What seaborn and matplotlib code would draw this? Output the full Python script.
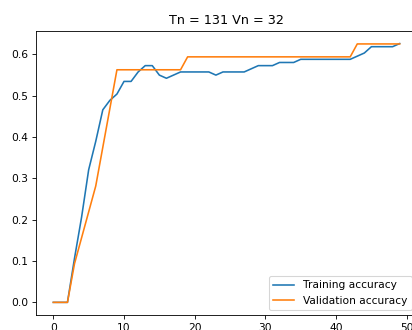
import matplotlib
matplotlib.use('Agg')
import matplotlib.pyplot as plt
import seaborn as sns
import numpy as np
import pandas as pd

# Counts of correct samples per epoch (Tn = 131 training, Vn = 32 validation)
n_train = 131
n_val = 32
epochs = list(range(50))
train_correct = [0, 0, 0, 14, 27, 42, 51, 61, 64, 66,
                 70, 70, 73, 75, 75, 72, 71, 72, 73, 73,
                 73, 73, 73, 72, 73, 73, 73, 73, 74, 75,
                 75, 75, 76, 76, 76, 77, 77, 77, 77, 77,
                 77, 77, 77, 78, 79, 81, 81, 81, 81, 82]
val_correct = [0, 0, 0, 3, 5, 7, 9, 12, 15, 18,
               18, 18, 18, 18, 18, 18, 18, 18, 18, 19,
               19, 19, 19, 19, 19, 19, 19, 19, 19, 19,
               19, 19, 19, 19, 19, 19, 19, 19, 19, 19,
               19, 19, 19, 20, 20, 20, 20, 20, 20, 20]

train_acc = np.array(train_correct) / n_train
val_acc = np.array(val_correct) / n_val

df = pd.DataFrame({
    'epoch': epochs * 2,
    'accuracy': np.concatenate([train_acc, val_acc]),
    'series': ['Training accuracy'] * 50 + ['Validation accuracy'] * 50,
})

dpi = 76.8
fig = plt.figure(figsize=(412 / dpi, 330 / dpi), dpi=dpi)
ax = fig.add_axes([36 / 412, 14.7 / 330, 381 / 412, 284.7 / 330])

sns.lineplot(data=df, x='epoch', y='accuracy', hue='series',
             palette=['#1f77b4', '#ff7f0e'], ax=ax)

ax.set_title(f'Tn = {n_train} Vn = {n_val}')
ax.set_xlabel('')
ax.set_ylabel('')
ax.set_xticks([0, 10, 20, 30, 40, 50])
ax.legend(loc='lower right')

fig.savefig('out.png', dpi=dpi)
